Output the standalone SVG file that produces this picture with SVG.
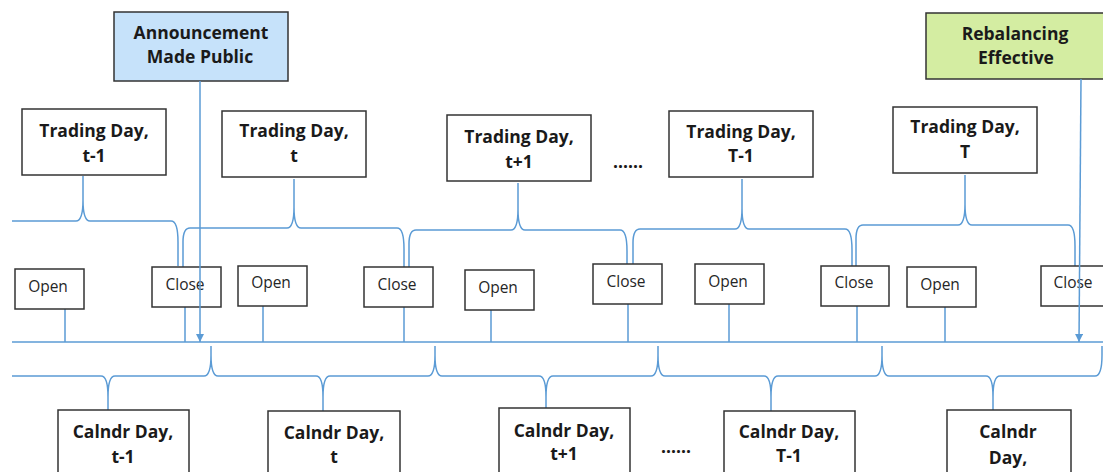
<svg xmlns="http://www.w3.org/2000/svg" width="1103" height="472" viewBox="0 0 1103 472">
<style>
.box{fill:#fff;stroke:#333;stroke-width:1.5}
.ann{fill:#c6e2fa}
.reb{fill:#d4eda2}
.b{font-family:"Open Sans","Noto Sans",sans-serif;font-weight:700;font-size:17.5px;fill:#1a1a1a;text-anchor:middle}
.r{font-family:"Open Sans","Noto Sans",sans-serif;font-weight:400;font-size:15.5px;fill:#262626;text-anchor:middle}
.ln{fill:none;stroke:#5b9bd5;stroke-width:1.5}
</style>
<defs>
<marker id="ah" viewBox="0 0 10 10" refX="10" refY="5" markerWidth="8" markerHeight="8" markerUnits="userSpaceOnUse" orient="auto">
<path d="M0,0 L10,5 L0,10 z" fill="#5b9bd5"/>
</marker>
</defs>

<g id="connectors">
<!-- main timeline -->
<path class="ln" d="M12,342 H1103"/>
<!-- top braces -->
<path class="ln" d="M12,221 H76 C81,221 83,214 83,200 V176 V200 C83,214 85,221 90,221 H171 C176,221 178,228 178,242 V266"/>
<path class="ln" d="M183,268 V242 C183,234 185,228 190,228 H287 C292,228 294,221 294,207 V179 V207 C294,221 296,228 301,228 H397 C402,228 404,235 404,249 V267"/>
<path class="ln" d="M409,267 V244 C409,236 411,230 416,230 H511 C516,230 518,223 518,209 V183 V209 C518,223 520,230 525,230 H620 C625,230 627,237 627,251 V265"/>
<path class="ln" d="M633,265 V243 C633,235 635,229 640,229 H735 C740,229 742,222 742,208 V179 V208 C742,222 744,229 749,229 H845 C850,229 852,236 852,250 V267"/>
<path class="ln" d="M856,267 V239 C856,231 858,225 863,225 H958 C963,225 965,218 965,204 V175 V204 C965,218 967,225 972,225 H1068 C1073,225 1075,232 1075,246 V267"/>
<!-- bottom braces -->
<path class="ln" d="M12,376 H101 C106,376 108,383 108,397 V411 V397 C108,383 110,376 115,376 H204 C209,376 211,369 211,355 V346 V355 C211,369 213,376 218,376 H316 C321,376 323,383 323,397 V412 V397 C323,383 325,376 330,376 H428 C433,376 435,369 435,355 V346 V355 C435,369 437,376 442,376 H539 C544,376 546,383 546,397 V409 V397 C546,383 548,376 553,376 H651 C656,376 658,369 658,355 V346 V355 C658,369 660,376 665,376 H764 C769,376 771,383 771,397 V412 V397 C771,383 773,376 778,376 H875 C880,376 882,369 882,355 V346 V355 C882,369 884,376 889,376 H986 C991,376 993,383 993,397 V411 V397 C993,383 995,376 1000,376 H1095 C1100,376 1102,369 1102,355 V346"/>
<!-- ticks -->
<path class="ln" d="M65,309 V342 M185,307 V342 M263,306 V342 M404,307 V342 M491,310 V342 M628,304 V342 M729,304 V342 M857,306 V342 M945,307 V342"/>
</g>

<g id="open1"><rect class="box" x="15" y="269" width="69" height="40"/><text class="r" x="48" y="292">Open</text></g>
<g id="close1"><rect class="box" x="152" y="267" width="69" height="40"/><text class="r" x="185" y="290">Close</text></g>
<g id="open2"><rect class="box" x="238" y="266" width="69" height="40"/><text class="r" x="271" y="288">Open</text></g>
<g id="close2"><rect class="box" x="364" y="267" width="69" height="40"/><text class="r" x="397" y="290">Close</text></g>
<g id="open3"><rect class="box" x="465" y="270" width="69" height="40"/><text class="r" x="498" y="293">Open</text></g>
<g id="close3"><rect class="box" x="593" y="264" width="69" height="40"/><text class="r" x="626" y="287">Close</text></g>
<g id="open4"><rect class="box" x="695" y="264" width="69" height="40"/><text class="r" x="728" y="287">Open</text></g>
<g id="close4"><rect class="box" x="821" y="266" width="68" height="40"/><text class="r" x="854" y="288">Close</text></g>
<g id="open5"><rect class="box" x="907" y="267" width="69" height="40"/><text class="r" x="940" y="290">Open</text></g>
<g id="close5"><rect class="box" x="1041" y="266" width="69" height="40"/><text class="r" x="1073" y="288">Close</text></g>

<g id="trade-t-1"><rect class="box" x="22" y="109" width="144" height="66"/><text class="b" x="94" y="137">Trading Day,</text><text class="b" x="94" y="162">t-1</text></g>
<g id="trade-t"><rect class="box" x="222" y="111" width="144" height="66"/><text class="b" x="294" y="137">Trading Day,</text><text class="b" x="294" y="162">t</text></g>
<g id="trade-t+1"><rect class="box" x="447" y="115" width="144" height="66"/><text class="b" x="519" y="143">Trading Day,</text><text class="b" x="519" y="168">t+1</text></g>
<g id="trade-T-1"><rect class="box" x="669" y="111" width="144" height="66"/><text class="b" x="741" y="138">Trading Day,</text><text class="b" x="741" y="162">T-1</text></g>
<g id="trade-T"><rect class="box" x="893" y="107" width="144" height="66"/><text class="b" x="965" y="133">Trading Day,</text><text class="b" x="965" y="158">T</text></g>

<g id="cal-t-1"><rect class="box" x="58" y="410" width="131" height="70"/><text class="b" x="123" y="438">Calndr Day,</text><text class="b" x="123" y="463">t-1</text></g>
<g id="cal-t"><rect class="box" x="268" y="411" width="132" height="70"/><text class="b" x="334" y="439">Calndr Day,</text><text class="b" x="334" y="463">t</text></g>
<g id="cal-t+1"><rect class="box" x="499" y="408" width="131" height="70"/><text class="b" x="564" y="437">Calndr Day,</text><text class="b" x="564" y="460">t+1</text></g>
<g id="cal-T-1"><rect class="box" x="724" y="411" width="131" height="70"/><text class="b" x="789" y="438">Calndr Day,</text><text class="b" x="789" y="462">T-1</text></g>
<g id="cal-T"><rect class="box" x="947" y="410" width="124" height="70"/><text class="b" x="1008" y="438">Calndr</text><text class="b" x="1008" y="464">Day,</text></g>

<g id="dots-top"><text class="b" x="628" y="168">......</text></g>
<g id="dots-bottom"><text class="b" x="676" y="453">......</text></g>

<g id="announcement"><rect class="box ann" x="114" y="12" width="174" height="69"/><text class="b" x="201" y="39">Announcement</text><text class="b" x="200" y="63">Made Public</text></g>
<g id="rebalancing"><rect class="box reb" x="926" y="13" width="184" height="66"/><text class="b" x="1015" y="40">Rebalancing</text><text class="b" x="1016" y="64">Effective</text></g>

<g id="arrows">
<path class="ln" d="M200,81 V342" marker-end="url(#ah)"/>
<path class="ln" d="M1081,79 L1079,342" marker-end="url(#ah)"/>
</g>
</svg>
